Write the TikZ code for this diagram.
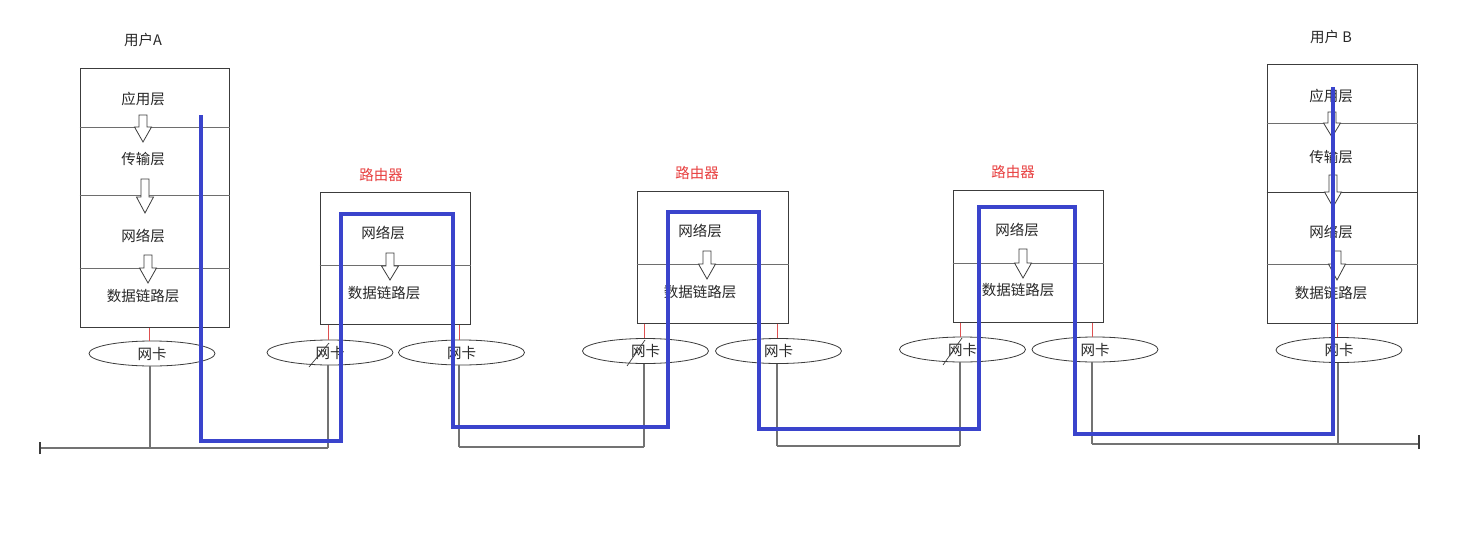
\documentclass[tikz,border=0pt]{standalone}
\usepackage{fontspec}
\setmainfont{Noto Sans CJK SC}
\usetikzlibrary{shapes.geometric}
\definecolor{pathblue}{RGB}{58,68,204}
\definecolor{routred}{RGB}{232,64,64}
\definecolor{stubred}{RGB}{222,80,80}
\definecolor{boxgray}{RGB}{60,60,60}
\definecolor{divgray}{RGB}{110,110,110}
\definecolor{wiregray}{RGB}{115,115,115}
\definecolor{txtgray}{RGB}{40,40,40}
\newcommand\hollowdown[4]{%
  \draw[harrow] (#1-4,#2) -- (#1+4,#2) -- (#1+4,#3) -- (#1+8.5,#3) -- (#1,#4) -- (#1-8.5,#3) -- (#1-4,#3) -- cycle;}
\begin{document}
\begin{tikzpicture}[x=1pt,y=-1pt,
  box/.style={draw=boxgray, line width=1pt, inner sep=0pt},
  lay/.style={font=\fontsize{14.5}{16}\selectfont, text=txtgray, inner sep=0pt},
  rlabel/.style={font=\fontsize{14.5}{16}\selectfont, text=routred, inner sep=0pt},
  nic/.style={ellipse, draw=boxgray, line width=0.8pt, minimum width=126pt, minimum height=25pt, inner sep=0pt, font=\fontsize{14.5}{16}\selectfont, text=txtgray},
  divider/.style={draw=divgray, line width=0.7pt},
  wire/.style={draw=wiregray, line width=1.1pt},
  stub/.style={draw=stubred, line width=0.8pt},
  slashline/.style={draw=boxgray, line width=0.7pt},
  harrow/.style={draw=boxgray, fill=white, line width=0.8pt, line join=miter},
  bluepath/.style={draw=pathblue, line width=3.6pt, line join=miter}]
\fill[white] (0,0) rectangle (1482,535);
\useasboundingbox (0,0) rectangle (1482,535);

% ---------- User A ----------
\node[lay] (labA) at (143,40) {用户A};
\node[box, minimum width=149pt, minimum height=259pt] (A) at (154.5,197.5) {};
\draw[divider] (A.west |- 0,127) -- (A.east |- 0,127);
\draw[divider] (A.west |- 0,195) -- (A.east |- 0,195);
\draw[divider] (A.west |- 0,268) -- (A.east |- 0,268);
\node[lay] (A1) at (143,99) {应用层};
\node[lay] (A2) at (143,159) {传输层};
\node[lay] (A3) at (143,236) {网络层};
\node[lay] (A4) at (143,296) {数据链路层};
\hollowdown{143}{115}{127}{142}
\hollowdown{145}{179}{197}{213}
\hollowdown{148}{255}{268}{283}
\node[nic] (nA) at (152,353.5) {网卡};

% ---------- Router 1 ----------
\node[rlabel] (labR1) at (381,175) {路由器};
\node[box, minimum width=150pt, minimum height=132pt] (R1) at (395,258) {};
\draw[divider] (R1.west |- 0,265) -- (R1.east |- 0,265);
\node[lay] (R1a) at (383,233) {网络层};
\node[lay] (R1b) at (384,293) {数据链路层};
\hollowdown{390}{253}{266}{280}
\node[nic] (n1L) at (330,352.5) {网卡};
\node[nic] (n1R) at (461.5,352.5) {网卡};

% ---------- Router 2 ----------
\node[rlabel] (labR2) at (697,173) {路由器};
\node[box, minimum width=151pt, minimum height=132pt] (R2) at (712.5,257) {};
\draw[divider] (R2.west |- 0,264) -- (R2.east |- 0,264);
\node[lay] (R2a) at (700,231) {网络层};
\node[lay] (R2b) at (700,292) {数据链路层};
\hollowdown{707}{251}{264}{279}
\node[nic] (n2L) at (645.5,351) {网卡};
\node[nic] (n2R) at (778.5,351) {网卡};

% ---------- Router 3 ----------
\node[rlabel] (labR3) at (1013,172) {路由器};
\node[box, minimum width=150pt, minimum height=132pt] (R3) at (1028,256) {};
\draw[divider] (R3.west |- 0,263) -- (R3.east |- 0,263);
\node[lay] (R3a) at (1017,230) {网络层};
\node[lay] (R3b) at (1018,290) {数据链路层};
\hollowdown{1023}{249}{263}{278}
\node[nic] (n3L) at (962.5,349.5) {网卡};
\node[nic] (n3R) at (1095,349.5) {网卡};

% ---------- User B ----------
\node[lay] (labB) at (1331,37) {用户 B};
\node[box, minimum width=150pt, minimum height=258pt] (B) at (1342,194) {};
\draw[divider] (B.west |- 0,123) -- (B.east |- 0,123);
\draw[boxgray, line width=1pt] (B.west |- 0,192) -- (B.east |- 0,192);
\draw[divider] (B.west |- 0,264) -- (B.east |- 0,264);
\node[lay] (B1) at (1331,96) {应用层};
\node[lay] (B2) at (1331,157) {传输层};
\node[lay] (B3) at (1331,232) {网络层};
\node[lay] (B4) at (1331,293) {数据链路层};
\hollowdown{1332}{112}{123}{137}
\hollowdown{1333}{175}{192}{207}
\hollowdown{1337}{251}{264}{280}
\node[nic] (nB) at (1339,350) {网卡};

% ---------- red stubs (box to NIC) ----------
\draw[stub] (A.south -| 149,0) -- (nA.north -| 149,0);
\draw[stub] (R1.south -| 328,0) -- (n1L.north -| 328,0);
\draw[stub] (R1.south -| 459,0) -- (n1R.north -| 459,0);
\draw[stub] (R2.south -| 644,0) -- (n2L.north -| 644,0);
\draw[stub] (R2.south -| 777,0) -- (n2R.north -| 777,0);
\draw[stub] (R3.south -| 960,0) -- (n3L.north -| 960,0);
\draw[stub] (R3.south -| 1092,0) -- (n3R.north -| 1092,0);
\draw[stub] (B.south -| 1337,0) -- (nB.north -| 1337,0);

% small slashes on left NICs
\draw[slashline] (329,343) -- (309,367);
\draw[slashline] (645,340) -- (627,366);
\draw[slashline] (962,338) -- (943,365);

% ---------- buses ----------
\coordinate (busA) at (40,448);
\coordinate (busAj) at (150,448);
\coordinate (bus1L) at (328,448);
\coordinate (bus1R) at (459,447);
\coordinate (bus2L) at (644,447);
\coordinate (bus2R) at (777,446);
\coordinate (bus3L) at (960,446);
\coordinate (bus3R) at (1092,444);
\coordinate (busBj) at (1338,444);
\coordinate (busB) at (1419,444);
\draw[wire] (nA.south -| busAj) -- (busAj);
\draw[wire] (n1L.south -| bus1L) -- (bus1L);
\draw[wire] (n1R.south -| bus1R) -- (bus1R);
\draw[wire] (n2L.south -| bus2L) -- (bus2L);
\draw[wire] (n2R.south -| bus2R) -- (bus2R);
\draw[wire] (n3L.south -| bus3L) -- (bus3L);
\draw[wire] (n3R.south -| bus3R) -- (bus3R);
\draw[wire] (nB.south -| busBj) -- (busBj);
\draw[wire] (busA) -- (bus1L);
\draw[wire] (bus1R) -- (bus2L);
\draw[wire] (bus2R) -- (bus3L);
\draw[wire] (bus3R) -- (busB);
\draw[boxgray, line width=1.2pt] ([yshift=-6pt]busA) -- ([yshift=6pt]busA);
\draw[boxgray, line width=1.2pt] ([yshift=-5pt]busB) -- ([yshift=9pt]busB);

% ---------- data path ----------
\draw[bluepath] (201,115) -- (201,441) -- (341,441) -- (341,214) -- (453,214)
  -- (453,427) -- (668,427) -- (668,212) -- (759,212) -- (759,429)
  -- (979,429) -- (979,207) -- (1075,207) -- (1075,434) -- (1333,434) -- (1333,87);
\end{tikzpicture}
\end{document}
